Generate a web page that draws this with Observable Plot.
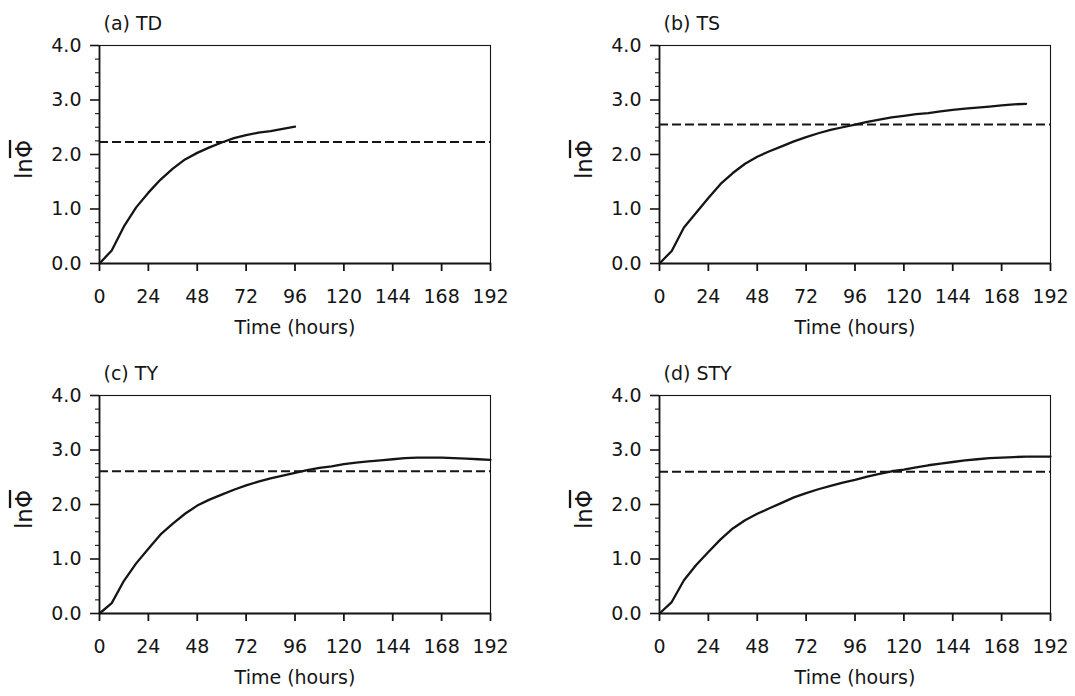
<!DOCTYPE html>
<html>
<head>
<meta charset="utf-8">
<script src="https://cdn.jsdelivr.net/npm/d3@7"></script>
<script src="https://cdn.jsdelivr.net/npm/@observablehq/plot@0.6"></script>
<style>
  html, body { margin: 0; padding: 0; background: #fff; overflow: hidden; }
  #wrap { position: relative; width: 1075px; height: 696px; background: #fff; }
  .panel { position: absolute; }
</style>
</head>
<body>
<div id="wrap"></div>
<script>
// ---- Data ----
const panelTitles = ["(a) TD", "(b) TS", "(c) TY", "(d) STY"];
const xTicks = [0, 24, 48, 72, 96, 120, 144, 168, 192];
const yTicks = [0, 1, 2, 3, 4];
const yMinorTicks = [0.25, 0.5, 0.75, 1.25, 1.5, 1.75, 2.25, 2.5, 2.75, 3.25, 3.5, 3.75];
const xLabel = "Time (hours)";
const yLabelPrefix = "ln";
const yLabelSymbol = "\u03A6";

const hoursTD = [0, 6, 12, 18, 24, 30, 36, 42, 48, 54, 60, 66, 72, 78, 84, 90, 96];
const valuesTD = [0, 0.24, 0.68, 1.03, 1.30, 1.54, 1.74, 1.91, 2.03, 2.13, 2.22, 2.30, 2.355, 2.40, 2.43, 2.47, 2.51];

const hoursTS = [0, 6, 12, 18, 24, 30, 36, 42, 48, 54, 60, 66, 72, 78, 84, 90, 96, 102, 108, 114, 120, 126, 132, 138, 144, 150, 156, 162, 168, 174, 180];
const valuesTS = [0, 0.23, 0.66, 0.93, 1.20, 1.46, 1.66, 1.83, 1.96, 2.06, 2.15, 2.24, 2.32, 2.39, 2.45, 2.50, 2.55, 2.60, 2.64, 2.68, 2.71, 2.74, 2.76, 2.79, 2.82, 2.84, 2.86, 2.88, 2.90, 2.92, 2.93];

const hoursTY = [0, 6, 12, 18, 24, 30, 36, 42, 48, 54, 60, 66, 72, 78, 84, 90, 96, 102, 108, 114, 120, 126, 132, 138, 144, 150, 156, 162, 168, 174, 180, 186, 192];
const valuesTY = [0, 0.19, 0.60, 0.92, 1.19, 1.45, 1.65, 1.83, 1.98, 2.09, 2.18, 2.27, 2.35, 2.42, 2.48, 2.53, 2.58, 2.63, 2.67, 2.70, 2.74, 2.77, 2.79, 2.81, 2.83, 2.85, 2.86, 2.86, 2.86, 2.85, 2.84, 2.83, 2.82];

const hoursSTY = [0, 6, 12, 18, 24, 30, 36, 42, 48, 54, 60, 66, 72, 78, 84, 90, 96, 102, 108, 114, 120, 126, 132, 138, 144, 150, 156, 162, 168, 174, 180, 186, 192];
const valuesSTY = [0, 0.21, 0.61, 0.89, 1.13, 1.36, 1.56, 1.71, 1.83, 1.93, 2.03, 2.13, 2.21, 2.28, 2.34, 2.40, 2.45, 2.51, 2.56, 2.61, 2.64, 2.68, 2.72, 2.75, 2.78, 2.81, 2.83, 2.85, 2.86, 2.87, 2.88, 2.88, 2.88];

const thresholds = [2.23, 2.55, 2.61, 2.60];

// ---- Layout ----
const series = [
  {hours: hoursTD, values: valuesTD},
  {hours: hoursTS, values: valuesTS},
  {hours: hoursTY, values: valuesTY},
  {hours: hoursSTY, values: valuesSTY}
];
const positions = [
  {left: 0, top: 0, height: 350, marginBottom: 87},
  {left: 560, top: 0, height: 350, marginBottom: 87},
  {left: 0, top: 350, height: 346, marginBottom: 83},
  {left: 560, top: 350, height: 346, marginBottom: 83}
];

const ink = "#151515";
const font = "'DejaVu Sans', 'Liberation Sans', Arial, sans-serif";

function panel(i) {
  const s = series[i];
  const data = s.hours.map((h, k) => ({h, v: s.values[k]}));
  const pos = positions[i];
  const svg = Plot.plot({
    width: 515,
    height: pos.height,
    marginLeft: 99,
    marginRight: 25,
    marginTop: 45,
    marginBottom: pos.marginBottom,
    style: {fontFamily: font, fontSize: "19px", color: ink, background: "white", overflow: "visible"},
    x: {domain: [0, 192]},
    y: {domain: [0, 4]},
    marks: [
      Plot.frame({stroke: ink, strokeWidth: 1.1}),
      Plot.ruleX([0], {stroke: ink, strokeWidth: 1.8}),
      Plot.ruleY([0], {stroke: ink, strokeWidth: 1.8}),
      Plot.axisX({ticks: xTicks, tickSize: 8, tickPadding: 18, tickFormat: d => String(d), label: null, strokeWidth: 1.8}),
      Plot.axisY({ticks: yTicks, tickSize: 9, tickPadding: 9, tickFormat: d => d.toFixed(1), label: null, strokeWidth: 1.6}),
      Plot.axisY({ticks: yMinorTicks, tickSize: 4, tickFormat: () => "", label: null, strokeWidth: 1.1}),
      Plot.ruleY([thresholds[i]], {stroke: ink, strokeWidth: 2, strokeDasharray: "9,4"}),
      Plot.line(data, {x: "h", y: "v", stroke: ink, strokeWidth: 2.3}),
      Plot.text([panelTitles[i]], {frameAnchor: "top-left", lineAnchor: "middle", dx: 4, dy: -22, textAnchor: "start", fontSize: 19, fill: ink}),
      Plot.text([xLabel], {frameAnchor: "bottom", lineAnchor: "middle", dy: 64, fontSize: 19, fill: ink}),
      Plot.text([yLabelPrefix + yLabelSymbol], {frameAnchor: "left", textAnchor: "middle", lineAnchor: "middle", dx: -75, dy: 5, rotate: -90, fontSize: 23, fill: ink, className: "ylab"})
    ]
  });
  // overbar on Φ in the y-axis label
  d3.select(svg).selectAll(".ylab text").each(function() {
    const t = d3.select(this);
    t.text(null);
    t.append("tspan").text(yLabelPrefix);
    t.append("tspan").style("text-decoration", "overline").text(yLabelSymbol);
  });
  return svg;
}

const wrap = document.getElementById("wrap");
for (let i = 0; i < 4; i++) {
  const div = document.createElement("div");
  div.className = "panel";
  div.style.left = positions[i].left + "px";
  div.style.top = positions[i].top + "px";
  div.appendChild(panel(i));
  wrap.appendChild(div);
}
</script>
</body>
</html>
